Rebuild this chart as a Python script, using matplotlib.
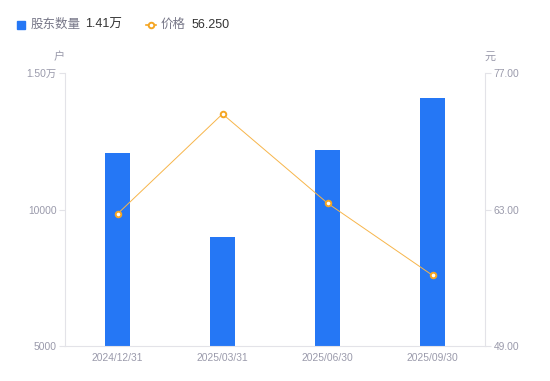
import numpy as np
import matplotlib
matplotlib.use('Agg')
import matplotlib.pyplot as plt

plt.rcParams['font.family'] = ['Liberation Sans', 'Noto Sans CJK SC', 'DejaVu Sans']

# data
dates = ['2024/12/31', '2025/03/31', '2025/06/30', '2025/09/30']
holders = [12070, 8990, 12180, 14080]
price = [62.55, 72.80, 63.65, 56.25]
left_ticks = [5000, 10000, 15000]
left_labels = ['5000', '10000', '1.50万']
right_ticks = [49.0, 63.0, 77.0]
right_labels = ['49.00', '63.00', '77.00']

blue = '#2577f5'
orange = '#f5a623'
grey = '#9a9aab'
axcol = '#e3e3e8'

fig = plt.figure(figsize=(5.5, 3.81), dpi=100)
ax = fig.add_axes([65/550, 1-346/381, 420/550, 273/381])
ax2 = ax.twinx()

x = np.arange(len(dates))
ax.bar(x, holders, width=0.24, color=blue, zorder=2)
ax.set_xlim(-0.5, len(dates)-0.5)
ax.set_ylim(5000, 15000)
ax.set_yticks(left_ticks)
ax.set_yticklabels(left_labels)
ax.set_xticks(x)
ax.set_xticklabels(dates)

ax2.plot(x, price, color='#f7b54a', lw=0.7, marker='o', ms=4,
         mfc='white', mec=orange, mew=1.4, zorder=3)
ax2.set_ylim(49, 77)
ax2.set_yticks(right_ticks)
ax2.set_yticklabels(right_labels)

for a in (ax, ax2):
    for s in a.spines.values():
        s.set_visible(False)
    a.tick_params(colors=grey, labelsize=7.4, length=4, width=0.8, color=axcol, pad=2)
ax.spines['left'].set_visible(True)
ax.spines['left'].set_color(axcol)
ax.spines['bottom'].set_visible(True)
ax.spines['bottom'].set_color(axcol)
ax2.spines['right'].set_visible(True)
ax2.spines['right'].set_color(axcol)
ax.tick_params(axis='x', length=0, pad=5)

# axis units
fig.text(59/550, 1-57/381, '户', fontsize=8, color=grey, ha='center', va='center')
fig.text(490/550, 1-57/381, '元', fontsize=8, color=grey, ha='center', va='center')

# legend
fig.patches.append(plt.Rectangle((17/550, 1-29/381), 8/550, 8/381,
                                 transform=fig.transFigure, color=blue))
fig.text(31/550, 1-25/381, '股东数量', fontsize=9, color='#777788', va='center')
fig.text(85/550, 1-25/381, '1.41万', fontsize=9, color='#333333', va='center')
fig.lines.append(plt.Line2D([146/550, 156/550], [1-25/381, 1-25/381], transform=fig.transFigure,
                            color=orange, lw=1.2))
fig.lines.append(plt.Line2D([151/550], [1-25/381], transform=fig.transFigure,
                            ls='none', marker='o', ms=4, mfc='white', mec=orange, mew=1.4))
fig.text(161/550, 1-25/381, '价格', fontsize=9, color='#777788', va='center')
fig.text(192/550, 1-25/381, '56.250', fontsize=9, color='#333333', va='center')

fig.savefig('out.png', dpi=100)
